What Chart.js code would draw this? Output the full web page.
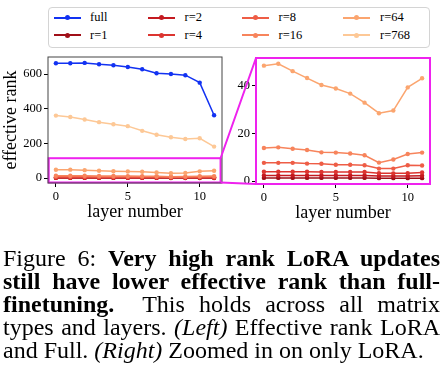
<!DOCTYPE html>
<html><head><meta charset="utf-8">
<script src="https://cdn.jsdelivr.net/npm/chart.js@4.4.0/dist/chart.umd.min.js"></script>
<style>
html,body{margin:0;padding:0;background:#fff;}
body{width:445px;height:380px;position:relative;overflow:hidden;font-family:"Liberation Serif","Times New Roman",serif;color:#000;}
#legend{position:absolute;left:48px;top:7px;width:382px;height:41px;border:1px solid #d4d4d4;border-radius:4px;box-sizing:border-box;}
.lline{position:absolute;height:2px;width:27px;}
.ldot{position:absolute;width:5px;height:5px;border-radius:50%;}
.ltext{position:absolute;font-size:12.5px;line-height:14px;white-space:nowrap;}
#cL{position:absolute;left:0;top:50px;}
#cR{position:absolute;left:226px;top:50px;}
#ov{position:absolute;left:0;top:0;pointer-events:none;}
#cap{position:absolute;left:3px;top:247px;width:437px;font-size:24px;line-height:23.1px;}
#cap div{text-align:justify;text-align-last:justify;}
#cap div.last{text-align:left;text-align-last:left;}
</style>
</head><body>
<div id="legend"></div>
<canvas id="cL" width="226" height="178"></canvas>
<canvas id="cR" width="208" height="179"></canvas>
<canvas id="ov" width="445" height="380"></canvas>
<div id="cap">
<div>Figure 6: <b>Very high rank LoRA updates</b></div>
<div><b>still have lower effective rank than full-</b></div>
<div><b>finetuning.</b>&nbsp; This holds across all matrix</div>
<div>types and layers. <i>(Left)</i> Effective rank LoRA</div>
<div class="last">and Full. <i>(Right)</i> Zoomed in on only LoRA.</div>
</div>
<script>
const layers = [0,1,2,3,4,5,6,7,8,9,10,11];
const full = [663,663,665,657,651,641,628,605,601,594,551,363];
const r1   = [1.3,1.3,1.3,1.3,1.3,1.3,1.3,1.3,1.2,1.2,1.2,1.2];
const r2   = [2.3,2.3,2.3,2.3,2.3,2.3,2.3,2.3,2.1,2.1,2.1,2.2];
const r4   = [3.9,3.9,3.9,3.9,3.8,3.8,3.8,3.8,3.3,3.2,3.3,3.6];
const r8   = [7.6,7.6,7.6,7.3,7.2,6.8,6.8,6.6,5.2,5.2,6.6,6.5];
const r16  = [13.8,14.1,13.5,13.0,12.0,11.9,11.5,10.8,7.7,9.0,11.3,11.9];
const r64  = [48.3,49.1,46.0,43.1,40.2,38.7,36.6,32.8,28.4,29.5,39.2,43.0];
const r768 = [361,353,338,323,311,300,273,250,236,226,230,182];

const seriesNames  = ['full','r=1','r=2','r=4','r=8','r=16','r=64','r=768'];
const seriesValues = [full,r1,r2,r4,r8,r16,r64,r768];
const seriesColors = ['#1232f2','#a00f18','#c41a20','#dc3530','#ee5d46','#f7845c','#fba56f','#fdc896'];
const rightSeries  = ['r=1','r=2','r=4','r=8','r=16','r=64'];

const xTicks = [0,5,10];
const leftYTicks = [0,200,400,600];
const rightYTicks = [0,20,40];
const xRange = [-0.55, 11.55];
const leftYRange = [-28, 699];
const rightYRange = [-1.25, 51.5];
const insetX = [-0.5, 11.45];
const insetY = [-25, 115];
const xTitle = 'layer number';
const yTitle = 'effective rank';
const MAG = '#ee22ee';

// legend
const lg = document.getElementById('legend');
const colLine = [4.5, 99, 193, 294];
const colText = [41, 135.5, 229.5, 331];
const rowY = [9.5, 27];
seriesNames.forEach((n,i)=>{
  const c = Math.floor(i/2), r = i%2;
  const l = document.createElement('div'); l.className='lline';
  l.style.left = colLine[c]+'px'; l.style.top = (rowY[r]-1)+'px'; l.style.background = seriesColors[i];
  lg.appendChild(l);
  const d = document.createElement('div'); d.className='ldot';
  d.style.left = (colLine[c]+11)+'px'; d.style.top = (rowY[r]-2.5)+'px'; d.style.background = seriesColors[i];
  lg.appendChild(d);
  const t = document.createElement('div'); t.className='ltext';
  t.style.left = colText[c]+'px'; t.style.top = (rowY[r]-7.5)+'px'; t.textContent = n;
  lg.appendChild(t);
});

Chart.defaults.font.family = '"Liberation Serif","Times New Roman",serif';
Chart.defaults.color = '#000';

function makeDatasets(names){
  const n = seriesNames.length;
  return names.map(name=>{
    const i = seriesNames.indexOf(name);
    return {
      label: name,
      data: layers.map((x,k)=>({x:x, y:seriesValues[i][k]})),
      borderColor: seriesColors[i], backgroundColor: seriesColors[i],
      borderWidth: 1.5, pointRadius: 2.2, pointBorderWidth: 0, pointHoverRadius: 0,
      tension: 0, order: n - i
    };
  });
}

const framePlugin = {
  id: 'frame',
  afterDatasetsDraw(chart, args, opts){
    const {ctx, chartArea:a} = chart;
    ctx.save();
    if (opts.inset){
      const xs = chart.scales.x, ys = chart.scales.y;
      const x0 = xs.getPixelForValue(insetX[0]), x1 = xs.getPixelForValue(insetX[1]);
      const y0 = ys.getPixelForValue(insetY[1]), y1 = Math.min(ys.getPixelForValue(insetY[0]), a.bottom);
      ctx.strokeStyle = MAG; ctx.lineWidth = 2;
      ctx.strokeRect(x0, y0, x1-x0, y1-y0);
    }
    ctx.strokeStyle = opts.color; ctx.lineWidth = opts.width;
    ctx.strokeRect(a.left, a.top, a.right-a.left, a.bottom-a.top);
    ctx.restore();
  }
};

function makeOptions(yRange, yTicks, yWidth, showYTitle, frameColor, frameWidth, inset, padTop){
  return {
    responsive: false, animation: false, events: [],
    layout: {padding: {top: padTop, right: 4, left: 0, bottom: 0}},
    plugins: {legend:{display:false}, tooltip:{enabled:false}, frame:{color:frameColor, width:frameWidth, inset:inset}},
    scales: {
      x: {
        type: 'linear', min: xRange[0], max: xRange[1],
        afterBuildTicks: s => { s.ticks = xTicks.map(v=>({value:v})); },
        afterFit: s => { s.height = 45; s.paddingLeft = 0; s.paddingRight = 0; },
        ticks: {font:{size:12.5}, padding: 2, maxRotation: 0, autoSkip: false},
        grid: {display:true, drawOnChartArea:false, drawTicks:true, tickLength:4, color:'#000'},
        border: {display:false},
        title: {display:true, text:xTitle, font:{size:18, lineHeight:1}, padding:{top:0, bottom:7}, color:'#000'}
      },
      y: {
        type: 'linear', min: yRange[0], max: yRange[1],
        afterBuildTicks: s => { s.ticks = yTicks.map(v=>({value:v})); },
        afterFit: s => { s.width = yWidth; s.paddingTop = 0; s.paddingBottom = 0; },
        ticks: {font:{size:12.5}, padding: 2},
        grid: {display:true, drawOnChartArea:false, drawTicks:true, tickLength:4, color:'#000'},
        border: {display:false},
        title: {display:showYTitle, text:yTitle, font:{size:18, lineHeight:1}, padding:{top:2.5, bottom:0}, color:'#000'}
      }
    }
  };
}

const left = new Chart(document.getElementById('cL'), {
  type: 'line',
  data: {datasets: makeDatasets(seriesNames)},
  options: makeOptions(leftYRange, leftYTicks, 48, true, '#444', 1, true, 7),
  plugins: [framePlugin]
});
const right = new Chart(document.getElementById('cR'), {
  type: 'line',
  data: {datasets: makeDatasets(rightSeries)},
  options: makeOptions(rightYRange, rightYTicks, 30, false, MAG, 2, false, 8),
  plugins: [framePlugin]
});

// connector lines
const ov = document.getElementById('ov').getContext('2d');
const Lc = document.getElementById('cL'), Rc = document.getElementById('cR');
const lOff = {x: Lc.offsetLeft, y: Lc.offsetTop}, rOff = {x: Rc.offsetLeft, y: Rc.offsetTop};
const lx = left.scales.x.getPixelForValue(insetX[1]) + lOff.x;
const lyTop = left.scales.y.getPixelForValue(insetY[1]) + lOff.y;
const lyBot = Math.min(left.scales.y.getPixelForValue(insetY[0]), left.chartArea.bottom) + lOff.y;
const ra = right.chartArea;
ov.strokeStyle = MAG; ov.lineWidth = 2;
ov.beginPath();
ov.moveTo(lx, lyTop); ov.lineTo(ra.left + rOff.x, ra.top + rOff.y);
ov.moveTo(lx, lyBot); ov.lineTo(ra.left + rOff.x, ra.bottom + rOff.y);
ov.stroke();
</script>
</body></html>
